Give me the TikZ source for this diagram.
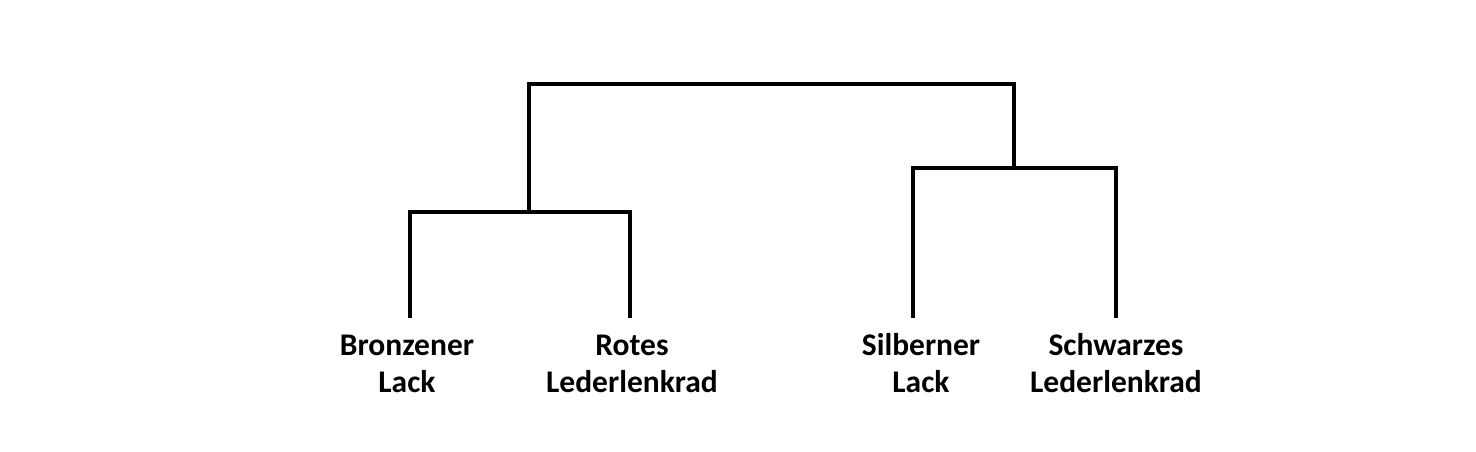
\documentclass[tikz,border=0pt]{standalone}
\usepackage{fontspec}
\setmainfont{Carlito}
\usepackage{tikz}
\usetikzlibrary{calc, positioning}

\begin{document}
\begin{tikzpicture}[x=1pt, y=-1pt,
    link/.style={line width=3.3pt, black},
    leaf/.style={font=\bfseries\fontsize{31.5}{37}\selectfont, align=center, anchor=base, inner sep=0pt}]
        \useasboundingbox (0,0) rectangle (1476,451);

        % Blätter (Merkmale)
        \node[leaf] (bronze) at (407,392) {Bronzener\\Lack};
        \node[leaf] (rot)    at (632,392) {Rotes\\Lederlenkrad};
        \node[leaf] (silber) at (921,392) {Silberner\\Lack};
        \node[leaf] (schwarz) at (1116,392) {Schwarzes\\Lederlenkrad};

        % Enden der Äste über den Blättern
        \coordinate (bronzeTop)  at (410,318);
        \coordinate (rotTop)     at (630,318);
        \coordinate (silberTop)  at (913,318);
        \coordinate (schwarzTop) at (1116,318);

        % Verschmelzungshöhen
        \coordinate (left)  at (529,212);
        \coordinate (right) at (1014,168);

        % Cluster links und rechts
        \draw[link] (bronzeTop) |- (left) -| (rotTop);
        \draw[link] (silberTop) |- (right) -| (schwarzTop);

        % oberste Verschmelzung
        \draw[link] (left) -- ++(0,-128) -| (right);
    \end{tikzpicture}
\end{document}
